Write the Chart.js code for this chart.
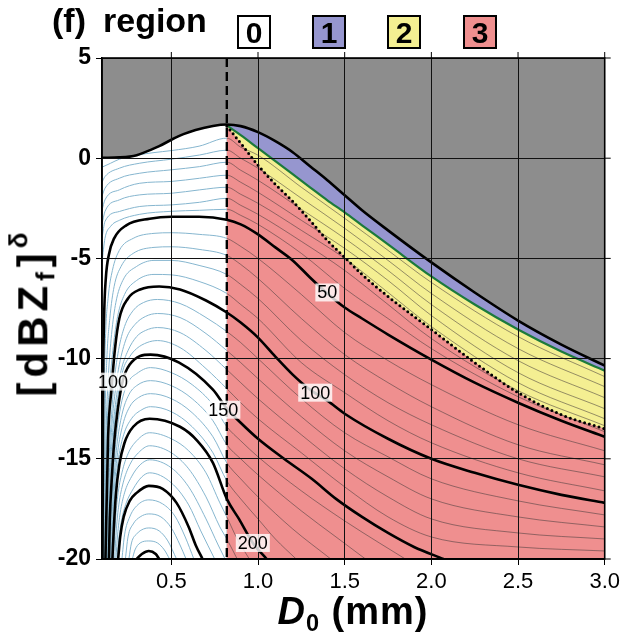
<!DOCTYPE html>
<html>
<head>
<meta charset="utf-8">
<script src="https://cdn.jsdelivr.net/npm/chart.js@4.4.1/dist/chart.umd.min.js"></script>
<style>
  html, body { margin: 0; padding: 0; background: #fff; }
  #wrap { position: relative; width: 624px; height: 639px; font-family: "Liberation Sans", Arial, sans-serif; color: #000; }
  #wrap canvas { position: absolute; left: 0; top: 0; }
  .hdr { position: absolute; top: 3px; font-weight: bold; font-size: 34px; line-height: 1; white-space: nowrap; }
  .box { position: absolute; top: 15px; width: 30px; height: 30px; border: 2px solid #000; font-weight: bold; font-size: 30px; line-height: 31px; text-align: center; }
  .xt { position: absolute; top: 592px; left: 353px; transform: translateX(-50%); font-weight: bold; font-size: 38px; letter-spacing: 1px; line-height: 1; white-space: nowrap; }
  .yt { position: absolute; left: 32px; top: 312px; transform: translate(-50%, -50%) rotate(-90deg); font-weight: bold; font-size: 42px; letter-spacing: 5px; line-height: 1; white-space: nowrap; }
  .xt sub, .yt sub { font-size: 0.62em; vertical-align: -0.3em; }
  .yt sup { font-size: 0.62em; vertical-align: 0.75em; }
</style>
</head>
<body>
<div id="wrap">
  <canvas id="c" width="624" height="639"></canvas>
  <div class="hdr" style="left:52px">(f)</div>
  <div class="hdr" style="left:103px">region</div>
  <div class="box" style="left:237px;background:#ffffff">0</div>
  <div class="box" style="left:312px;background:#9696cf">1</div>
  <div class="box" style="left:387px;background:#f4ef92">2</div>
  <div class="box" style="left:463px;background:#ef8f8f">3</div>
  <div class="xt"><i>D</i><sub>0</sub> (mm)</div>
  <div class="yt">[dBZ<sub>f</sub>]<sup>δ</sup></div>
</div>
<script>
// axes
const xTicks = [0.5, 1.0, 1.5, 2.0, 2.5, 3.0];
const yTicks = [-20, -15, -10, -5, 0, 5];
const dashX = 0.82;

// region boundaries [D0, dB]
const upperLeft = [[0.1,0.02],[0.2,0.04],[0.26,0.08],[0.3,0.15],[0.356,0.33],[0.43,0.6],[0.5,0.92],[0.57,1.2],[0.64,1.41],[0.74,1.61],[0.82,1.68]];
const upperRight = [[0.82,1.68],[0.9,1.6],[1.0,1.3],[1.1,0.85],[1.2,0.3],[1.3,-0.4],[1.4,-1.1],[1.5,-1.85],[1.6,-2.6],[1.75,-3.6],[2.0,-5.2],[2.25,-6.7],[2.5,-8.1],[2.75,-9.3],[3.0,-10.35]];
const greenEdge = [[0.82,1.64],[0.9,1.15],[1.0,0.5],[1.1,-0.15],[1.2,-0.8],[1.3,-1.45],[1.4,-2.1],[1.5,-2.7],[1.6,-3.35],[1.75,-4.3],[2.0,-5.9],[2.25,-7.3],[2.5,-8.55],[2.75,-9.65],[3.0,-10.6]];
const dottedEdge = [[0.82,1.6],[0.9,0.75],[1.0,-0.35],[1.1,-1.3],[1.2,-2.15],[1.3,-3.1],[1.4,-4.1],[1.5,-4.95],[1.6,-5.8],[1.75,-6.9],[2.0,-8.55],[2.25,-10.2],[2.5,-11.7],[2.75,-12.8],[3.0,-13.5]];

// thick contours
const c50 = [[0.103,-20],[0.106,-12],[0.112,-8],[0.122,-6],[0.14,-4.8],[0.17,-4.0],[0.24,-3.35],[0.375,-3.02],[0.5,-2.92],[0.66,-2.92],[0.82,-3.07],[0.9,-3.3],[1.0,-3.8],[1.1,-4.45],[1.2,-5.1],[1.3,-5.95],[1.4,-6.75],[1.5,-7.45],[1.6,-8.0],[1.75,-8.8],[2.0,-10.05],[2.25,-11.2],[2.5,-12.2],[2.75,-13.1],[3.0,-13.9]];
const c100 = [[0.12,-20],[0.135,-14],[0.155,-11.5],[0.175,-9.5],[0.2,-8.0],[0.25,-7.0],[0.32,-6.55],[0.43,-6.4],[0.55,-6.55],[0.7,-7.1],[0.82,-7.7],[0.9,-8.2],[1.0,-8.95],[1.1,-9.9],[1.2,-10.8],[1.3,-11.55],[1.4,-12.1],[1.5,-12.75],[1.75,-14.0],[2.0,-15.0],[2.25,-15.7],[2.5,-16.3],[2.75,-16.8],[3.0,-17.2]];
const c150 = [[0.14,-20],[0.145,-18],[0.155,-16.2],[0.17,-14.2],[0.19,-12.6],[0.22,-11.1],[0.26,-10.3],[0.38,-9.8],[0.545,-10.2],[0.74,-11.55],[0.82,-12.5],[0.9,-13.2],[1.0,-14.0],[1.15,-15.0],[1.31,-16.0],[1.45,-17.0],[1.6,-17.9],[1.75,-18.7],[1.9,-19.4],[2.07,-20]];
const c200 = [[0.16,-20],[0.168,-18.5],[0.18,-16.8],[0.2,-15.3],[0.23,-14.2],[0.28,-13.4],[0.375,-13.0],[0.55,-13.4],[0.65,-14.1],[0.74,-15.2],[0.82,-17.0],[0.89,-18.0],[0.97,-19.2],[1.05,-20]];
const c250 = [[0.193,-20],[0.205,-18.9],[0.225,-17.9],[0.26,-17.1],[0.3,-16.7],[0.37,-16.35],[0.45,-16.5],[0.53,-17.2],[0.6,-18.4],[0.64,-19.3],[0.68,-20]];
const c300 = [[0.3,-20],[0.33,-19.75],[0.37,-19.6],[0.41,-19.75],[0.43,-20]];

// thin contours, grouped by band
const thinTop = [
  [[0.1,-0.45],[0.15,-0.25],[0.2,-0.05],[0.3,0.15],[0.4,0.28],[0.5,0.38],[0.66,0.6],[0.82,1.0],[0.9,0.55],[1.0,0.15],[1.25,-1.45],[1.5,-3.0],[1.75,-4.6],[2.0,-6.2],[2.5,-8.9],[3.0,-10.9]],
  [[0.1,-1.2],[0.117,-0.92],[0.2,-0.5],[0.318,-0.25],[0.5,-0.05],[0.663,0.16],[0.82,0.4],[0.9,0.0],[1.0,-0.5],[1.25,-2.0],[1.5,-3.5],[1.75,-5.1],[2.0,-6.75],[2.5,-9.5],[3.0,-11.4]],
  [[0.1,-1.9],[0.117,-1.5],[0.2,-1.0],[0.318,-0.75],[0.5,-0.58],[0.663,-0.42],[0.82,-0.2],[0.9,-0.6],[1.0,-1.1],[1.25,-2.55],[1.5,-4.0],[1.75,-5.6],[2.0,-7.3],[2.5,-10.1],[3.0,-11.95]],
  [[0.1,-2.6],[0.117,-2.08],[0.2,-1.58],[0.318,-1.25],[0.5,-1.16],[0.663,-1.0],[0.82,-0.85],[0.9,-1.2],[1.0,-1.7],[1.25,-3.1],[1.5,-4.5],[1.75,-6.1],[2.0,-7.85],[2.5,-10.7],[3.0,-12.5]],
  [[0.1,-3.3],[0.117,-2.66],[0.2,-2.08],[0.318,-1.83],[0.5,-1.75],[0.663,-1.58],[0.82,-1.45],[0.9,-1.8],[1.0,-2.25],[1.25,-3.6],[1.5,-5.0],[1.75,-6.7],[2.0,-8.4],[2.5,-11.2],[3.0,-13.0]],
  [[0.1,-4.0],[0.117,-3.16],[0.2,-2.66],[0.318,-2.41],[0.5,-2.33],[0.663,-2.2],[0.82,-2.0],[0.9,-2.35],[1.0,-2.8],[1.25,-4.15],[1.5,-5.6],[1.75,-7.3],[2.0,-9.0],[2.5,-11.6],[3.0,-13.35]],
  [[0.1,-5.2],[0.117,-4.0],[0.15,-3.4],[0.2,-3.1],[0.318,-2.8],[0.5,-2.65],[0.663,-2.6],[0.82,-2.55],[0.9,-2.85],[1.0,-3.3],[1.25,-4.75],[1.5,-6.5],[1.75,-8.0],[2.0,-9.5],[2.5,-11.9],[3.0,-13.65]]
];
const thin50to100 = [
  [[0.108,-20],[0.113,-12],[0.12,-9],[0.135,-7],[0.16,-5.6],[0.2,-4.6],[0.28,-4.0],[0.4,-3.75],[0.5,-3.72],[0.66,-3.8],[0.82,-4.0],[0.9,-4.4],[1.0,-5.0],[1.25,-6.8],[1.5,-8.7],[1.75,-10.1],[2.0,-11.3],[2.5,-13.3],[3.0,-14.6]],
  [[0.111,-20],[0.118,-13],[0.128,-10],[0.145,-8],[0.17,-6.4],[0.21,-5.4],[0.28,-4.75],[0.4,-4.45],[0.5,-4.42],[0.66,-4.55],[0.82,-4.85],[0.9,-5.3],[1.0,-6.0],[1.25,-8.0],[1.5,-9.8],[1.75,-11.2],[2.0,-12.4],[2.5,-14.3],[3.0,-15.3]],
  [[0.114,-20],[0.123,-14],[0.136,-11],[0.155,-8.8],[0.18,-7.2],[0.22,-6.1],[0.3,-5.4],[0.4,-5.1],[0.5,-5.1],[0.66,-5.35],[0.82,-5.8],[0.9,-6.3],[1.0,-7.0],[1.25,-9.1],[1.5,-10.8],[1.75,-12.2],[2.0,-13.3],[2.5,-15.0],[3.0,-15.9]],
  [[0.117,-20],[0.128,-14],[0.145,-11.3],[0.165,-9.4],[0.19,-7.9],[0.23,-6.8],[0.3,-6.1],[0.4,-5.8],[0.5,-5.82],[0.66,-6.15],[0.82,-6.75],[0.9,-7.3],[1.0,-8.0],[1.25,-10.2],[1.5,-11.7],[1.75,-13.1],[2.0,-14.2],[2.5,-15.7],[3.0,-16.6]]
];
const thin100to150 = [
  [[0.124,-20],[0.132,-17.5],[0.14,-15.2],[0.155,-12.8],[0.172,-11.0],[0.195,-9.6],[0.23,-8.4],[0.28,-7.6],[0.34,-7.2],[0.42,-7.05],[0.55,-7.25],[0.7,-7.95],[0.82,-8.65],[0.9,-9.2],[1.0,-10.0],[1.25,-12.0],[1.5,-13.7],[1.75,-14.9],[2.0,-16.0],[2.5,-17.1],[3.0,-17.8]],
  [[0.128,-20],[0.136,-17.4],[0.145,-15.2],[0.16,-13.0],[0.18,-11.4],[0.2,-10.3],[0.24,-9.0],[0.29,-8.3],[0.35,-7.9],[0.42,-7.75],[0.55,-7.95],[0.7,-8.75],[0.82,-9.6],[0.9,-10.2],[1.0,-11.0],[1.25,-12.9],[1.5,-14.6],[1.75,-15.9],[2.0,-17.0],[2.5,-17.9],[3.0,-18.4]],
  [[0.132,-20],[0.14,-17.2],[0.15,-15.2],[0.165,-13.3],[0.185,-11.8],[0.21,-10.6],[0.25,-9.6],[0.3,-8.9],[0.35,-8.6],[0.42,-8.45],[0.55,-8.7],[0.7,-9.6],[0.82,-10.55],[0.9,-11.2],[1.0,-12.0],[1.25,-13.8],[1.5,-15.5],[1.75,-16.9],[2.0,-18.0],[2.5,-18.7],[3.0,-19.0]],
  [[0.136,-20],[0.145,-17],[0.155,-15.2],[0.17,-13.4],[0.19,-12.0],[0.22,-10.6],[0.26,-9.9],[0.3,-9.5],[0.36,-9.2],[0.42,-9.1],[0.55,-9.45],[0.7,-10.5],[0.82,-11.5],[0.9,-12.2],[1.0,-13.0],[1.25,-14.7],[1.5,-16.4],[1.75,-17.9],[2.0,-18.9],[2.5,-19.4],[3.0,-19.6]]
];
const thin150to200 = [
  [[0.144,-20],[0.152,-18.1],[0.164,-16.0],[0.18,-14.1],[0.21,-12.3],[0.25,-11.2],[0.3,-10.75],[0.38,-10.45],[0.5,-10.7],[0.62,-11.3],[0.74,-12.3],[0.82,-13.4],[0.9,-14.1],[1.0,-14.9],[1.25,-16.6],[1.5,-18.1],[1.7,-19.2],[1.85,-20]],
  [[0.148,-20],[0.156,-18.2],[0.168,-16.2],[0.185,-14.4],[0.215,-12.8],[0.255,-11.8],[0.3,-11.35],[0.38,-11.1],[0.5,-11.35],[0.62,-12.0],[0.74,-13.1],[0.82,-14.3],[0.9,-15.0],[1.0,-15.8],[1.25,-17.6],[1.45,-18.9],[1.62,-20]],
  [[0.152,-20],[0.16,-18.3],[0.172,-16.4],[0.19,-14.7],[0.22,-13.3],[0.26,-12.4],[0.31,-11.95],[0.38,-11.75],[0.5,-12.0],[0.62,-12.7],[0.74,-13.9],[0.82,-15.2],[0.9,-16.0],[1.0,-16.9],[1.2,-18.5],[1.42,-20]],
  [[0.156,-20],[0.164,-18.4],[0.176,-16.6],[0.195,-15.0],[0.225,-13.8],[0.27,-13.0],[0.33,-12.55],[0.38,-12.4],[0.5,-12.65],[0.62,-13.4],[0.74,-14.7],[0.82,-16.1],[0.9,-17.0],[1.0,-18.0],[1.1,-19.0],[1.22,-20]]
];
const thin200to250 = [
  [[0.166,-20],[0.176,-18.3],[0.19,-16.9],[0.215,-15.7],[0.25,-14.75],[0.3,-14.1],[0.375,-13.7],[0.5,-14.0],[0.6,-14.6],[0.7,-15.7],[0.78,-17.2],[0.82,-17.9],[0.88,-19.0],[0.95,-20]],
  [[0.173,-20],[0.183,-18.5],[0.197,-17.3],[0.222,-16.2],[0.26,-15.3],[0.31,-14.7],[0.375,-14.35],[0.5,-14.7],[0.6,-15.5],[0.7,-16.9],[0.78,-18.4],[0.82,-19.0],[0.88,-20]],
  [[0.18,-20],[0.19,-18.8],[0.205,-17.7],[0.23,-16.7],[0.27,-15.9],[0.32,-15.3],[0.375,-15.05],[0.5,-15.45],[0.6,-16.4],[0.7,-18.0],[0.77,-19.3],[0.81,-20]],
  [[0.187,-20],[0.196,-19.1],[0.212,-18.1],[0.24,-17.2],[0.28,-16.5],[0.33,-15.9],[0.375,-15.7],[0.5,-16.2],[0.6,-17.3],[0.67,-18.6],[0.75,-20]]
];
const thin250to300 = [
  [[0.215,-20],[0.23,-18.8],[0.26,-17.9],[0.3,-17.35],[0.37,-17.05],[0.45,-17.25],[0.52,-17.85],[0.58,-18.9],[0.63,-20]],
  [[0.235,-20],[0.25,-18.9],[0.28,-18.25],[0.32,-17.9],[0.37,-17.75],[0.44,-17.9],[0.5,-18.45],[0.55,-19.3],[0.585,-20]],
  [[0.255,-20],[0.27,-19.2],[0.3,-18.75],[0.34,-18.5],[0.37,-18.45],[0.43,-18.6],[0.48,-19.1],[0.53,-20]],
  [[0.275,-20],[0.29,-19.55],[0.32,-19.2],[0.37,-19.1],[0.42,-19.2],[0.46,-19.55],[0.49,-20]]
];

// contour labels
const labelText = ['50', '100', '100', '150', '200'];
const labelX = [1.40, 1.33, 0.163, 0.80, 0.97];
const labelY = [-6.7, -11.7, -11.15, -12.55, -19.2];

const GRAY = '#8d8d8d', BLUE = '#9696cf', YELLOW = '#f4ef92', PINK = '#ef8f8f';
const THIN_W = '#86b6cf', THIN_R = 'rgba(70,60,60,0.55)';

const pts = a => a.map(([x, y]) => ({ x, y }));
const line = (data, extra) => Object.assign({
  data: pts(data), pointRadius: 0, pointHoverRadius: 0, fill: false,
  cubicInterpolationMode: 'monotone', borderWidth: 0
}, extra);

const datasets = [
  line(upperLeft, { fill: 'start', backgroundColor: '#ffffff', order: 100 }),
  line(dottedEdge, { fill: 'start', backgroundColor: PINK, order: 100 }),
  line(greenEdge, { fill: 1, backgroundColor: YELLOW, order: 100 }),
  line(upperRight, { fill: 2, backgroundColor: BLUE, order: 100 }),
];
const thinStyle = {
  borderWidth: 1, borderColor: THIN_R, order: 50,
  segment: { borderColor: c => c.p1.parsed.x <= dashX + 1e-9 ? THIN_W : THIN_R }
};
[thinTop, thin50to100, thin100to150, thin150to200, thin200to250, thin250to300]
  .forEach(g => g.forEach(c => datasets.push(line(c, thinStyle))));
[c50, c100, c150, c200, c250, c300]
  .forEach(c => datasets.push(line(c, { borderWidth: 2.6, borderColor: '#000', order: 40 })));
datasets.push(line([[dashX, 5], [dashX, -20]], { borderWidth: 2.4, borderColor: '#000', borderDash: [9, 5], cubicInterpolationMode: 'default', tension: 0, order: 30 }));
datasets.push(line(dottedEdge, { borderWidth: 3, borderColor: '#000', borderDash: [0, 5], borderCapStyle: 'round', order: 20 }));
datasets.push(line(greenEdge, { borderWidth: 2.2, borderColor: '#1c7a3c', order: 20 }));
datasets.push(line(upperLeft.concat(upperRight.slice(1)), { borderWidth: 2.6, borderColor: '#000', order: 10 }));

const framePlugin = {
  id: 'frame',
  beforeDraw(chart) {
    const { ctx, chartArea: a } = chart;
    ctx.save();
    ctx.fillStyle = GRAY;
    ctx.fillRect(a.left, a.top, a.right - a.left, a.bottom - a.top);
    ctx.restore();
  },
  afterDraw(chart) {
    const { ctx, chartArea: a, scales: { x, y } } = chart;
    ctx.save();
    ctx.strokeStyle = '#000';
    ctx.lineWidth = 1;
    ctx.beginPath();
    xTicks.forEach(v => { const px = x.getPixelForValue(v); ctx.moveTo(px, a.top); ctx.lineTo(px, a.top - 6); });
    yTicks.forEach(v => { const py = y.getPixelForValue(v); ctx.moveTo(a.right, py); ctx.lineTo(a.right + 6, py); });
    ctx.stroke();
    ctx.lineWidth = 1.6;
    ctx.strokeRect(a.left, a.top, a.right - a.left, a.bottom - a.top);
    // contour value labels
    ctx.font = '18px "Liberation Sans", Arial, sans-serif';
    ctx.textAlign = 'center';
    ctx.textBaseline = 'middle';
    labelText.forEach((t, i) => {
      const px = x.getPixelForValue(labelX[i]), py = y.getPixelForValue(labelY[i]);
      const w = ctx.measureText(t).width + 4;
      ctx.fillStyle = 'rgba(255,255,255,0.8)';
      ctx.fillRect(px - w / 2, py - 9, w, 18);
      ctx.fillStyle = '#000';
      ctx.fillText(t, px, py + 1);
    });
    ctx.restore();
  }
};

new Chart(document.getElementById('c'), {
  type: 'line',
  data: { datasets },
  options: {
    responsive: false,
    animation: false,
    events: [],
    layout: { padding: { top: 58, right: 19, left: 0, bottom: 0 } },
    plugins: { legend: { display: false }, tooltip: { enabled: false } },
    scales: {
      x: {
        type: 'linear', min: 0.1, max: 3.0,
        afterBuildTicks: s => { s.ticks = xTicks.map(v => ({ value: v })); },
        afterFit: s => { s.height = 80; },
        ticks: { color: '#000', padding: 4, maxRotation: 0, autoSkip: false,
          font: { family: '"Liberation Sans", Arial, sans-serif', size: 22 },
          callback: v => v.toFixed(1), z: 1 },
        grid: { color: '#111', lineWidth: 1, tickLength: 6, tickColor: '#000', z: 1 },
        border: { display: true, color: '#000', width: 1.6, z: 1 }
      },
      y: {
        type: 'linear', min: -20, max: 5,
        afterBuildTicks: s => { s.ticks = yTicks.map(v => ({ value: v })); },
        afterFit: s => { s.width = 102; },
        ticks: { color: '#000', padding: 5, autoSkip: false,
          font: { family: '"Liberation Sans", Arial, sans-serif', size: 23, weight: 'bold' }, z: 1 },
        grid: { color: '#111', lineWidth: 1, tickLength: 6, tickColor: '#000', z: 1 },
        border: { display: true, color: '#000', width: 1.6, z: 1 }
      }
    }
  },
  plugins: [framePlugin]
});
</script>
</body>
</html>
